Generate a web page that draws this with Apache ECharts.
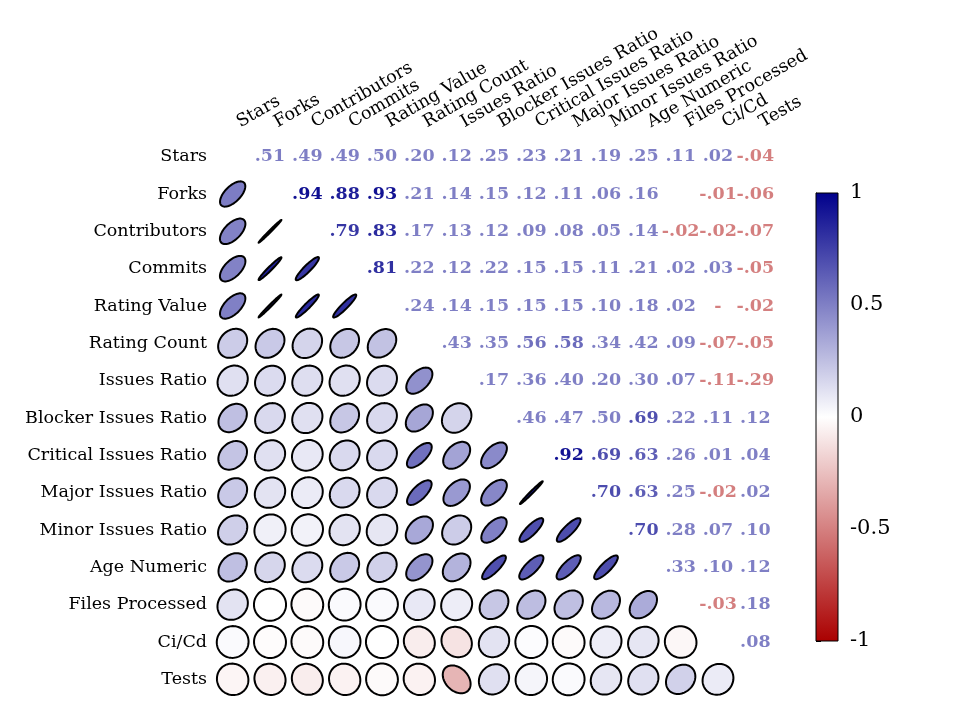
<!DOCTYPE html>
<html>
<head>
<meta charset="utf-8">
<script src="https://cdn.jsdelivr.net/npm/echarts@6/dist/echarts.min.js"></script>
<style>
  html, body { margin: 0; padding: 0; background: #fff; }
  #corr { width: 960px; height: 720px; }
</style>
</head>
<body>
<div id="corr"></div>
<script>
// variable names, in matrix order
var names = ["Stars", "Forks", "Contributors", "Commits", "Rating Value", "Rating Count",
  "Issues Ratio", "Blocker Issues Ratio", "Critical Issues Ratio", "Major Issues Ratio",
  "Minor Issues Ratio", "Age Numeric", "Files Processed", "Ci/Cd", "Tests"];

// upper triangle, one array per row (values against the following variables)
var rStars = [.51, .49, .49, .50, .20, .12, .25, .23, .21, .19, .25, .11, .02, -.04];
var rForks = [.94, .88, .93, .21, .14, .15, .12, .11, .06, .16, .001, -.01, -.06];
var rContributors = [.79, .83, .17, .13, .12, .09, .08, .05, .14, -.02, -.02, -.07];
var rCommits = [.81, .22, .12, .22, .15, .15, .11, .21, .02, .03, -.05];
var rRatingValue = [.24, .14, .15, .15, .15, .10, .18, .02, -.001, -.02];
var rRatingCount = [.43, .35, .56, .58, .34, .42, .09, -.07, -.05];
var rIssues = [.17, .36, .40, .20, .30, .07, -.11, -.29];
var rBlocker = [.46, .47, .50, .69, .22, .11, .12];
var rCritical = [.92, .69, .63, .26, .01, .04];
var rMajor = [.70, .63, .25, -.02, .02];
var rMinor = [.70, .28, .07, .10];
var rAge = [.33, .10, .12];
var rFiles = [-.03, .18];
var rCiCd = [.08];

var upperRows = [rStars, rForks, rContributors, rCommits, rRatingValue, rRatingCount,
  rIssues, rBlocker, rCritical, rMajor, rMinor, rAge, rFiles, rCiCd];

// colour bar ticks
var cbTicks = [-1, -0.5, 0, 0.5, 1];

var SHRINK = 0.86;
var FONT = "DejaVu Serif";

// build the symmetric matrix
var n = names.length;
var M = [];
for (var i = 0; i < n; i++) { M.push([]); for (var j = 0; j < n; j++) M[i].push(i === j ? 1 : 0); }
upperRows.forEach(function (row, i) {
  row.forEach(function (v, k) {
    var j = i + 1 + k;
    M[i][j] = v;
    M[j][i] = v;
  });
});

var ellipseData = [];
var textData = [];
for (var r = 0; r < n; r++) {
  for (var c = 0; c < n; c++) {
    if (r > c) ellipseData.push([c, r, M[r][c]]);
    else if (r < c) textData.push([c, r, M[r][c]]);
  }
}

// red - white - dark blue colour map on [-1, 1]
function cmap(v) {
  var lo = [170, 0, 0], mid = [255, 255, 255], hi = [0, 0, 139];
  var t = Math.max(-1, Math.min(1, v));
  var a = t < 0 ? lo : hi, f = Math.abs(t);
  var rgb = mid.map(function (m, k) { return Math.round(m + (a[k] - m) * f); });
  return "rgb(" + rgb.join(",") + ")";
}

function fmt(v) {
  var s = Math.abs(v).toFixed(2);
  if (s === "0.00") return v < 0 ? "-" : "";
  return (v < 0 ? "-" : "") + s.replace(/^0/, "");
}

function renderEllipse(params, api) {
  var ctr = api.coord([api.value(0), api.value(1)]);
  var sz = api.size([1, 1]);
  var v = api.value(2);
  var a = SHRINK / 2;
  var b = SHRINK * (1 - Math.abs(v)) / 2;
  var phi = (v > 0 ? -45 : 45) * Math.PI / 180;
  var pts = [];
  for (var k = 0; k < 72; k++) {
    var t = k / 72 * Math.PI * 2;
    var ex = a * Math.cos(t), ey = b * Math.sin(t);
    var dx = ex * Math.cos(phi) - ey * Math.sin(phi);
    var dy = ex * Math.sin(phi) + ey * Math.cos(phi);
    pts.push([ctr[0] + dx * sz[0], ctr[1] + dy * sz[1]]);
  }
  return {
    type: "polygon",
    shape: { points: pts },
    style: { fill: cmap(v), stroke: "#000", lineWidth: 2 }
  };
}

function renderText(params, api) {
  var ctr = api.coord([api.value(0), api.value(1)]);
  var v = api.value(2);
  return {
    type: "text",
    style: {
      text: fmt(v),
      x: ctr[0], y: ctr[1],
      align: "center", verticalAlign: "middle",
      fill: v < 0 ? "#AA0000" : "#00008B",
      opacity: Math.max(0.5, Math.abs(v)),
      font: "bold 17.5px '" + FONT + "'"
    }
  };
}

function renderBar(params, api) {
  var p1 = api.coord([0, 1]);
  var p2 = api.coord([1, -1]);
  return {
    type: "rect",
    shape: { x: p1[0], y: p1[1], width: p2[0] - p1[0], height: p2[1] - p1[1] },
    style: {
      fill: new echarts.graphic.LinearGradient(0, 0, 0, 1, [
        { offset: 0, color: "#00008B" },
        { offset: 0.5, color: "#ffffff" },
        { offset: 1, color: "#AA0000" }
      ]),
      stroke: "#000", lineWidth: 1
    }
  };
}

var chart = echarts.init(document.getElementById("corr"));
var option = {
  animation: false,
  backgroundColor: "#fff",
  grid: [
    { left: 214, top: 138, width: 560, height: 560 },
    { left: 816, top: 193, width: 22, height: 448 }
  ],
  xAxis: [
    {
      type: "category", data: names, position: "top", gridIndex: 0,
      axisLine: { show: false }, axisTick: { show: false }, splitLine: { show: false },
      axisLabel: {
        rotate: -30, interval: 0, margin: 1, align: "left", verticalAlign: "bottom",
        padding: [0, 0, 0, 11.5],
        color: "#000", fontFamily: FONT, fontSize: 17.5
      }
    },
    { type: "value", gridIndex: 1, min: 0, max: 1, show: false }
  ],
  yAxis: [
    {
      type: "category", data: names, inverse: true, gridIndex: 0,
      axisLine: { show: false }, axisTick: { show: false }, splitLine: { show: false },
      axisLabel: { interval: 0, margin: 7, color: "#000", fontFamily: FONT, fontSize: 17.5 }
    },
    {
      type: "value", gridIndex: 1, position: "right", min: -1, max: 1, interval: 0.5,
      axisLine: { show: true, lineStyle: { color: "#000", width: 1 } },
      axisTick: { show: true, length: 5, lineStyle: { color: "#000" } },
      splitLine: { show: false },
      axisLabel: {
        margin: 12, color: "#000", fontFamily: FONT, fontSize: 21,
        showMinLabel: true, showMaxLabel: true,
        formatter: function (v) { return cbTicks.indexOf(v) >= 0 ? String(v) : ""; }
      }
    }
  ],
  series: [
    { type: "custom", xAxisIndex: 0, yAxisIndex: 0, renderItem: renderEllipse, data: ellipseData, silent: true },
    { type: "custom", xAxisIndex: 0, yAxisIndex: 0, renderItem: renderText, data: textData, silent: true },
    { type: "custom", xAxisIndex: 1, yAxisIndex: 1, renderItem: renderBar, data: [[0, 0]], silent: true }
  ]
};
chart.setOption(option);
</script>
</body>
</html>
